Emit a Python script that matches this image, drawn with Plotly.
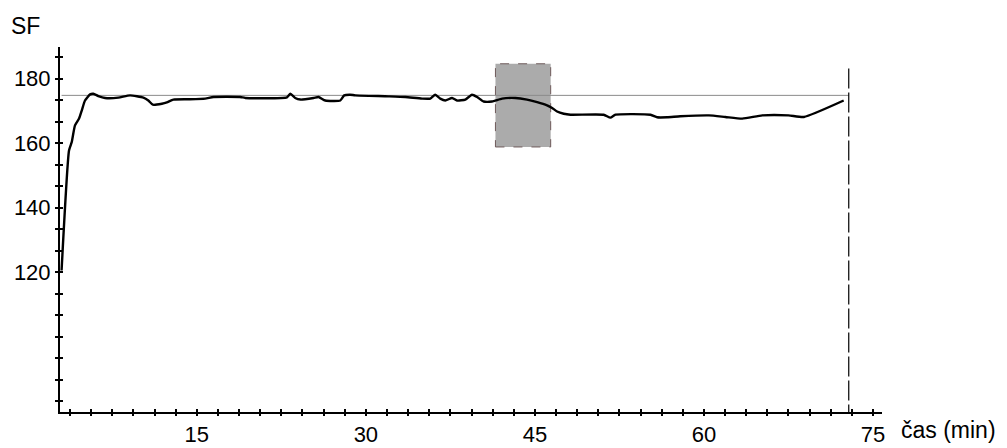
import numpy as np
import plotly.graph_objects as go

# --- data ---
time_min = [3.0, 3.66, 3.9, 4.19, 4.55, 4.79, 5.08, 5.53, 5.82, 6.26, 6.86, 8.04, 9.08,
            10.26, 10.7, 11.1, 11.9, 12.34, 12.92, 14.26, 15.74, 16.48, 18.85, 19.3,
            23.0, 23.3, 23.73, 24.2, 25.36, 25.8, 26.4, 27.73, 28.08, 28.6, 29.06,
            32.0, 33.5, 34.98, 35.72, 36.16, 36.6, 37.05, 37.65, 38.09, 38.83, 39.42,
            39.87, 40.45, 41.2, 42.09, 43.27, 44.3, 45.2, 46.08, 46.53, 46.97, 47.56,
            48.16, 51.1, 51.7, 52.15, 55.26, 55.85, 56.74, 57.9, 60.44, 61.9, 63.4,
            65.18, 67.5, 68.87, 72.4]
sf_values = [120.5, 157.7, 160.3, 165.5, 167.6, 170.1, 173.2, 175.1, 175.3, 174.6, 174.0,
             174.1, 174.8, 174.1, 173.2, 171.9, 172.2, 172.6, 173.5, 173.6, 173.8, 174.3,
             174.3, 174.0, 174.2, 175.3, 174.0, 173.5, 174.0, 174.3, 173.2, 173.2, 174.8,
             175.0, 174.8, 174.5, 174.3, 173.8, 173.8, 175.0, 173.8, 173.2, 174.0, 173.2,
             173.5, 175.0, 174.3, 172.9, 172.9, 173.8, 174.0, 173.5, 172.7, 171.7, 170.9,
             169.8, 169.1, 168.8, 168.8, 167.9, 168.8, 168.8, 168.0, 168.0, 168.3, 168.6,
             168.1, 167.6, 168.6, 168.6, 168.1, 173.2]

ref_level = 174.8          # horizontal reference line
ref_x = [3.0, 72.85]
end_time = 72.85           # dashed vertical line
end_top = 183.1
rain_start, rain_end = 41.5, 46.4
rain_low, rain_high = 158.8, 184.6
rain_label = "dešťová přeháňka"

x_labels = [15, 30, 45, 60, 75]
y_labels = [120, 140, 160, 180]
x_tick_step = 1.875
y_tick_step = 20 / 3

x_range = [2.86, 75.8]
y_range = [76.6, 189.8]

x_ticks = [3.75 + k * x_tick_step for k in range(39)]
x_text = [str(int(round(v))) if any(abs(v - l) < 1e-6 for l in x_labels) else "" for v in x_ticks]
y_ticks = [80 + k * y_tick_step for k in range(17)]
y_text = [str(int(round(v))) if any(abs(v - l) < 1e-6 for l in y_labels) else "" for v in y_ticks]

FONT = "Liberation Sans, Arial, sans-serif"
FS = 23
TFS = 22

fig = go.Figure()

fig.add_trace(go.Scatter(x=ref_x, y=[ref_level, ref_level], mode="lines",
                         line=dict(color="#8a8a8a", width=1), hoverinfo="skip"))
fig.add_trace(go.Scatter(x=[end_time, end_time], y=[end_top, y_range[0]], mode="lines",
                         line=dict(color="black", width=1.2, dash="20px,4px"), hoverinfo="skip"))
fig.add_trace(go.Scatter(x=time_min, y=sf_values, mode="lines",
                         line=dict(color="black", width=2.4, shape="spline", smoothing=0.5)))
# invisible trace to carry the overlay axes (inner tick halves)
fig.add_trace(go.Scatter(x=[x_range[0]], y=[y_range[0]], xaxis="x2", yaxis="y2",
                         mode="markers", marker=dict(opacity=0), hoverinfo="skip"))

fig.add_shape(type="rect", x0=rain_start, x1=rain_end, y0=rain_low, y1=rain_high,
              xref="x", yref="y", layer="below", fillcolor="#ababab",
              line=dict(color="#6e5a5a", width=1, dash="dash"))

fig.add_annotation(x=(rain_start + rain_end) / 2 - 0.2, y=190.3, xref="x", yref="y",
                   text=rain_label, showarrow=False, xanchor="center", yanchor="middle",
                   font=dict(size=FS, color="black", family=FONT))
fig.add_annotation(x=-0.0414, y=1.0567, xref="paper", yref="paper", text="SF",
                   showarrow=False, xanchor="center", yanchor="middle",
                   font=dict(size=FS, color="black", family=FONT))
fig.add_annotation(x=1.0807, y=-0.05, xref="paper", yref="paper", text="čas (min)",
                   showarrow=False, xanchor="center", yanchor="middle",
                   font=dict(size=FS, color="black", family=FONT))

axis_common = dict(showgrid=False, zeroline=False, tickcolor="black", tickwidth=1.5,
                   automargin=False)

fig.update_layout(
    width=1007, height=448, autosize=False,
    margin=dict(l=60, r=125.3, t=46.7, b=36.3, pad=0, autoexpand=False),
    paper_bgcolor="white", plot_bgcolor="white",
    showlegend=False,
    font=dict(family=FONT, color="black", size=FS),
    xaxis=dict(range=x_range, showline=True, linecolor="black", linewidth=2,
               tickmode="array", tickvals=x_ticks, ticktext=x_text,
               ticks="outside", ticklen=2, ticklabelstandoff=0,
               tickfont=dict(size=TFS, family=FONT, color="black"), **axis_common),
    yaxis=dict(range=y_range, showline=True, linecolor="black", linewidth=2,
               tickmode="array", tickvals=y_ticks, ticktext=y_text,
               ticks="outside", ticklen=3, ticklabelstandoff=0,
               tickfont=dict(size=TFS, family=FONT, color="black"), **axis_common),
    xaxis2=dict(range=x_range, overlaying="x", anchor="y2", side="bottom",
                tickmode="array", tickvals=x_ticks, ticks="inside", ticklen=3,
                showticklabels=False, showline=False, **axis_common),
    yaxis2=dict(range=y_range, overlaying="y", anchor="x2", side="left",
                tickmode="array", tickvals=y_ticks, ticks="inside", ticklen=3,
                showticklabels=False, showline=False, **axis_common),
)

fig.write_html("out.html")
